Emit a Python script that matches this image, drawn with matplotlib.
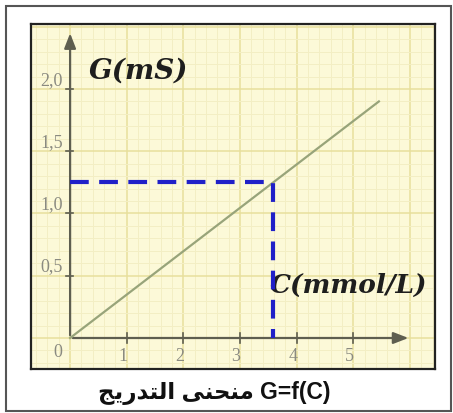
import matplotlib
matplotlib.use("Agg")
import matplotlib.pyplot as plt
from matplotlib.patches import Rectangle
import numpy as np

# calibration line G = f(C)
conc = [0.0, 5.45]          # mmol/L
cond = [0.0, 1.90]          # mS
# reading for the unknown solution
c_read = 3.58
g_read = 1.25

xticks = [1, 2, 3, 4, 5]
yticks = [0.5, 1.0, 1.5, 2.0]
ytick_labels = ["0,5", "1,0", "1,5", "2,0"]

# caption: Arabic written in presentation forms, visual order
caption_ar = "\uFE9E\uFEF3\uFEAD\uFEAA\uFE98\uFEDF\uFE8D \uFEF0\uFEE8\uFEA4\uFEE8\uFEE3"
caption = caption_ar + " G=f(C)"

fig = plt.figure(figsize=(4.53, 4.14), dpi=100)
fig.patch.set_facecolor("white")

# outer frame of the picture
fig.patches.append(Rectangle((6/453, 1-412/414), 445/453, 405/414, transform=fig.transFigure,
                             fill=False, edgecolor="#555555", linewidth=1.5))

ax = fig.add_axes([31/453, 1-370/414, 404/453, 345/414])
ax.set_facecolor("#fcf9d8")
ax.set_xlim(-0.69, 6.44)
ax.set_ylim(-0.249, 2.522)

# graph paper
for x in np.arange(-0.6, 6.5, 0.2):
    major = abs(x - round(x)) < 1e-6
    ax.axvline(x, color="#e8df9c" if major else "#f3eec4", linewidth=1.1 if major else 0.7, zorder=0)
for y in np.arange(-0.2, 2.55, 0.1):
    major = abs(y*2 - round(y*2)) < 1e-6
    ax.axhline(y, color="#e8df9c" if major else "#f3eec4", linewidth=1.1 if major else 0.7, zorder=0)

ax.set_xticks([])
ax.set_yticks([])
for s in ax.spines.values():
    s.set_color("#222222")
    s.set_linewidth(1.6)

# axes with arrows
axis_col = "#5e5e50"
ax.annotate("", xy=(6.02, 0), xytext=(0, 0),
            arrowprops=dict(arrowstyle="-|>,head_length=0.9,head_width=0.35", color=axis_col, lw=1.6))
ax.annotate("", xy=(0, 2.47), xytext=(0, 0),
            arrowprops=dict(arrowstyle="-|>,head_length=0.9,head_width=0.35", color=axis_col, lw=1.6))

# small tick marks and labels
for xv in xticks:
    ax.plot([xv, xv], [-0.04, 0.04], color=axis_col, lw=1.2)
    ax.text(xv - 0.07, -0.14, str(xv), ha="center", va="center", fontsize=13,
            family="Liberation Serif", color="#8a8a80")
for yv, lab in zip(yticks, ytick_labels):
    ax.plot([-0.08, 0.06], [yv, yv], color=axis_col, lw=1.2)
    ax.text(-0.13, yv + 0.01, lab, ha="right", va="bottom", fontsize=13,
            family="Liberation Serif", color="#8a8a80")
ax.text(-0.22, -0.11, "0", ha="center", va="center", fontsize=13,
        family="Liberation Serif", color="#8a8a80")

# calibration line
ax.plot(conc, cond, color="#98a47a", linewidth=1.6, zorder=3)

# projection of the reading
ax.plot([0, c_read, c_read], [g_read, g_read, 0], color="#2020c8", linewidth=3,
        linestyle=(0, (4.5, 2.5)), zorder=4)

ax.text(0.33, 2.15, "G(mS)", fontsize=20, fontweight="bold", fontstyle="italic",
        family="DejaVu Serif", color="#1e1e1e", ha="left", va="center")
ax.text(3.52, 0.43, "C(mmol/L)", fontsize=19, fontweight="bold", fontstyle="italic",
        family="DejaVu Serif", color="#1e1e1e", ha="left", va="center")

fig.text(214/453, 1-393/414, caption, ha="center", va="center", fontsize=16.5,
         fontweight="bold", family=["Liberation Sans", "DejaVu Sans"], color="#111111")

fig.savefig("out.png", dpi=100)
